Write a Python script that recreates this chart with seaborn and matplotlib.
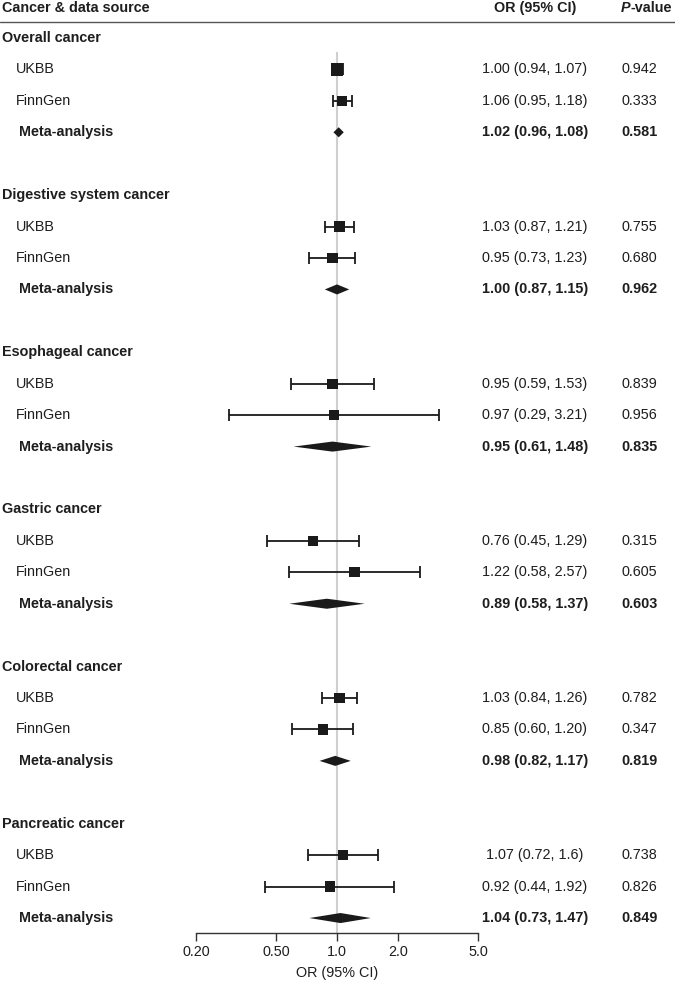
import numpy as np
import pandas as pd
import matplotlib
matplotlib.use("Agg")
import matplotlib.pyplot as plt
import matplotlib.transforms as mtransforms
from matplotlib.lines import Line2D
import seaborn as sns

# ---------------- data ----------------
groups = ["Overall cancer", "Digestive system cancer", "Esophageal cancer",
          "Gastric cancer", "Colorectal cancer", "Pancreatic cancer"]
sources = ["UKBB", "FinnGen", "Meta-analysis"]

or_est = [1.00, 1.06, 1.02,
          1.03, 0.95, 1.00,
          0.95, 0.97, 0.95,
          0.76, 1.22, 0.89,
          1.03, 0.85, 0.98,
          1.07, 0.92, 1.04]
or_lo = [0.94, 0.95, 0.96,
         0.87, 0.73, 0.87,
         0.59, 0.29, 0.61,
         0.45, 0.58, 0.58,
         0.84, 0.60, 0.82,
         0.72, 0.44, 0.73]
or_hi = [1.07, 1.18, 1.08,
         1.21, 1.23, 1.15,
         1.53, 3.21, 1.48,
         1.29, 2.57, 1.37,
         1.26, 1.20, 1.17,
         1.6, 1.92, 1.47]
or_text = ["1.00 (0.94, 1.07)", "1.06 (0.95, 1.18)", "1.02 (0.96, 1.08)",
           "1.03 (0.87, 1.21)", "0.95 (0.73, 1.23)", "1.00 (0.87, 1.15)",
           "0.95 (0.59, 1.53)", "0.97 (0.29, 3.21)", "0.95 (0.61, 1.48)",
           "0.76 (0.45, 1.29)", "1.22 (0.58, 2.57)", "0.89 (0.58, 1.37)",
           "1.03 (0.84, 1.26)", "0.85 (0.60, 1.20)", "0.98 (0.82, 1.17)",
           "1.07 (0.72, 1.6)", "0.92 (0.44, 1.92)", "1.04 (0.73, 1.47)"]
p_text = ["0.942", "0.333", "0.581",
          "0.755", "0.680", "0.962",
          "0.839", "0.956", "0.835",
          "0.315", "0.605", "0.603",
          "0.782", "0.347", "0.819",
          "0.738", "0.826", "0.849"]
tick_vals = [0.2, 0.5, 1.0, 2.0, 5.0]
tick_labels = ["0.20", "0.50", "1.0", "2.0", "5.0"]

# ---------------- build table ----------------
rows = []
for gi, g in enumerate(groups):
    for si, s in enumerate(sources):
        k = gi * 3 + si
        rows.append(dict(group=g, source=s, row=gi * 5 + si + 1,
                         est=or_est[k], lo=or_lo[k], hi=or_hi[k],
                         ortxt=or_text[k], ptxt=p_text[k],
                         meta=(s == "Meta-analysis")))
df = pd.DataFrame(rows)
se = (np.log(df["hi"]) - np.log(df["lo"])) / 3.92
side_px = np.clip(2.3 / np.sqrt(se), 10.3, 13.0)
df["msize"] = (side_px * 0.72) ** 2

# ---------------- style ----------------
sns.set_theme(style="white")
plt.rcParams["font.family"] = ["Liberation Sans", "DejaVu Sans"]
TXT = "#1e1e1e"
MARK = "#1a1a1a"
FS = 10.4

W, H = 675, 984
fig = plt.figure(figsize=(W / 100, H / 100), dpi=100)
ax = fig.add_axes([196 / W, 1 - 933 / H, (478 - 196) / W, 933 / H])
ax.set_xscale("log")
ax.set_xlim(0.2, 5.0)
y_top, y_bot = -1.209, 28.476
ax.set_ylim(y_bot, y_top)

# reference line
ax.vlines(1.0, 0.45, y_bot, color="#cfcfcf", lw=1.5, zorder=0)

ind = df[~df["meta"]]
meta = df[df["meta"]]

ax.errorbar(ind["est"], ind["row"],
            xerr=[ind["est"] - ind["lo"], ind["hi"] - ind["est"]],
            fmt="none", ecolor=MARK, elinewidth=1.3, capsize=4, capthick=1.3,
            zorder=2)
sns.scatterplot(x=ind["est"], y=ind["row"], s=ind["msize"].values, marker="s",
                color=MARK, linewidth=0, ax=ax, zorder=3, legend=False)

dh = 0.16
for _, r in meta.iterrows():
    ax.fill([r["lo"], r["est"], r["hi"], r["est"]],
            [r["row"], r["row"] - dh, r["row"], r["row"] + dh],
            color=MARK, lw=0, zorder=3)

# axis styling
for sp in ["top", "left", "right"]:
    ax.spines[sp].set_visible(False)
ax.spines["bottom"].set_bounds(0.2, 5.0)
ax.spines["bottom"].set_color("#333333")
ax.spines["bottom"].set_linewidth(1.0)
ax.set_yticks([])
ax.set_ylabel("")
ax.set_xticks(tick_vals)
ax.set_xticklabels(tick_labels)
ax.xaxis.set_minor_locator(matplotlib.ticker.NullLocator())
ax.tick_params(axis="x", which="major", direction="out", length=5.5, width=1.0,
               color="#333333", labelsize=FS, labelcolor=TXT, pad=3.5, bottom=True)
ax.set_xlabel("OR (95% CI)", fontsize=FS, color=TXT, labelpad=5)
ax.patch.set_alpha(0)

# text columns
tr = mtransforms.blended_transform_factory(fig.transFigure, ax.transData)
def fx(px):
    return px / W

hdr_row = -0.955
ax.text(fx(2), hdr_row, "Cancer & data source", transform=tr, ha="left", va="center",
        fontsize=FS, fontweight="bold", color=TXT)
ax.text(fx(535), hdr_row, "OR (95% CI)", transform=tr, ha="center", va="center",
        fontsize=FS, fontweight="bold", color=TXT)
tp = ax.text(fx(621), hdr_row, "P", transform=tr, ha="left", va="center",
             fontsize=FS, fontweight="bold", fontstyle="italic", color=TXT)
ax.annotate("-value", xy=(1, 0), xycoords=tp, ha="left", va="bottom",
            fontsize=FS, fontweight="bold", color=TXT)

fig.add_artist(Line2D([0, 1], [1 - 22 / H, 1 - 22 / H], transform=fig.transFigure,
                      color="#555555", lw=1.0))

for gi, g in enumerate(groups):
    ax.text(fx(2), gi * 5, g, transform=tr, ha="left", va="center",
            fontsize=FS, fontweight="bold", color=TXT)

for _, r in df.iterrows():
    wt = "bold" if r["meta"] else "normal"
    ax.text(fx(19 if r["meta"] else 16), r["row"], r["source"], transform=tr,
            ha="left", va="center", fontsize=FS, fontweight=wt, color=TXT)
    ax.text(fx(535), r["row"], r["ortxt"], transform=tr, ha="center", va="center",
            fontsize=FS, fontweight=wt, color=TXT)
    ax.text(fx(621), r["row"], r["ptxt"], transform=tr, ha="left", va="center",
            fontsize=FS, fontweight=wt, color=TXT)

fig.savefig("out.png", dpi=100)
